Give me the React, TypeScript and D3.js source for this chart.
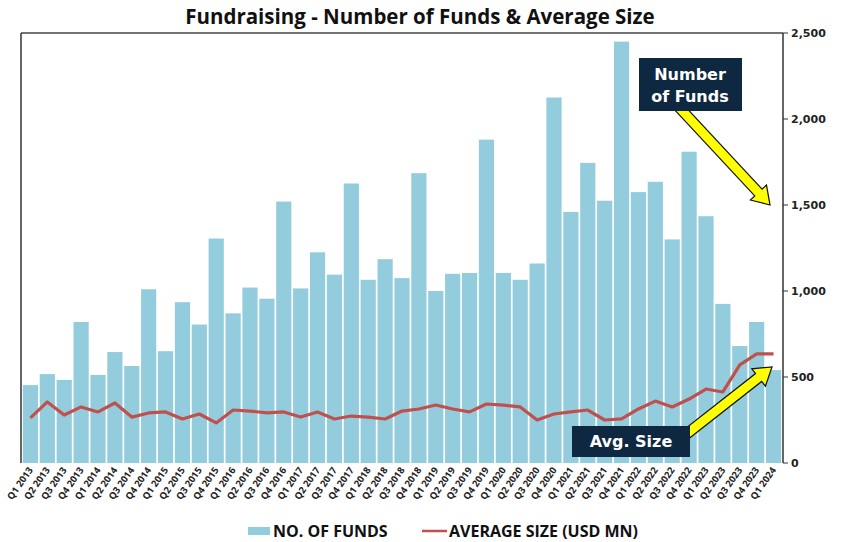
import React from 'react'
import * as d3 from 'd3'

const quarters = [
  'Q1 2013', 'Q2 2013', 'Q3 2013', 'Q4 2013',
  'Q1 2014', 'Q2 2014', 'Q3 2014', 'Q4 2014',
  'Q1 2015', 'Q2 2015', 'Q3 2015', 'Q4 2015',
  'Q1 2016', 'Q2 2016', 'Q3 2016', 'Q4 2016',
  'Q1 2017', 'Q2 2017', 'Q3 2017', 'Q4 2017',
  'Q1 2018', 'Q2 2018', 'Q3 2018', 'Q4 2018',
  'Q1 2019', 'Q2 2019', 'Q3 2019', 'Q4 2019',
  'Q1 2020', 'Q2 2020', 'Q3 2020', 'Q4 2020',
  'Q1 2021', 'Q2 2021', 'Q3 2021', 'Q4 2021',
  'Q1 2022', 'Q2 2022', 'Q3 2022', 'Q4 2022',
  'Q1 2023', 'Q2 2023', 'Q3 2023', 'Q4 2023',
  'Q1 2024',
]

const numberOfFunds = [
  453, 517, 483, 820,
  512, 645, 564, 1010,
  650, 935, 805, 1305,
  870, 1020, 955, 1520,
  1015, 1225, 1095, 1625,
  1065, 1185, 1075, 1685,
  1000, 1100, 1105, 1880,
  1105, 1065, 1160, 2125,
  1460, 1745, 1525, 2450,
  1575, 1635, 1300, 1810,
  1435, 925, 680, 820,
  540,
]

const averageSize = [
  262, 355, 279, 326,
  297, 349, 267, 291,
  297, 256, 285, 233,
  308, 302, 291, 297,
  267, 297, 256, 273,
  267, 256, 302, 314,
  337, 314, 297, 343,
  337, 326, 250, 285,
  297, 308, 250, 256,
  314, 360, 326, 372,
  430, 413, 570, 634,
  634,
]

const yTicks = [0, 500, 1000, 1500, 2000, 2500]

const left = 21
const right = 783
const top = 33
const bottom = 463

// block arrow polygon from (x1,y1) to tip (x2,y2)
const blockArrow = (x1: number, y1: number, x2: number, y2: number) => {
  const shaft = 5
  const head = 11
  const headLen = 17
  const dx = x2 - x1
  const dy = y2 - y1
  const len = Math.sqrt(dx * dx + dy * dy)
  const ux = dx / len
  const uy = dy / len
  const nx = -uy
  const ny = ux
  const bx = x2 - ux * headLen
  const by = y2 - uy * headLen
  const pts = [
    [x1 + nx * shaft, y1 + ny * shaft],
    [bx + nx * shaft, by + ny * shaft],
    [bx + nx * head, by + ny * head],
    [x2, y2],
    [bx - nx * head, by - ny * head],
    [bx - nx * shaft, by - ny * shaft],
    [x1 - nx * shaft, y1 - ny * shaft],
  ]
  return pts.map(p => p.join(',')).join(' ')
}

const App: React.FunctionComponent = () => {
  const x = d3
    .scaleBand<string>()
    .domain(quarters)
    .range([left + 1, right - 1])
    .paddingInner(0.1)
    .paddingOuter(0.05)

  const y = d3.scaleLinear().domain([0, 2500]).range([bottom, top])

  const line = d3
    .line<number>()
    .x((_, i) => (x(quarters[i]) as number) + x.bandwidth() / 2)
    .y(d => y(d))

  const labelFont = "'Open Sans', 'DejaVu Sans', sans-serif"
  const boxFont = "'DejaVu Sans', Verdana, sans-serif"

  return (
    <svg width={842} height={542} style={{ position: 'absolute', left: 0, top: 0 }}>
      <rect width={842} height={542} fill="#fff" />
      <text
        x={420}
        y={24}
        textAnchor="middle"
        fontFamily={labelFont}
        fontWeight={700}
        fontSize={20.5}
        fill="#111"
      >
        Fundraising - Number of Funds &amp; Average Size
      </text>

      {quarters.map((q, i) => (
        <rect
          key={q}
          x={x(q)}
          y={y(numberOfFunds[i])}
          width={x.bandwidth()}
          height={bottom - y(numberOfFunds[i])}
          fill="#93cddd"
        />
      ))}

      <path
        d={line(averageSize) || ''}
        fill="none"
        stroke="#c0504d"
        strokeWidth={3.2}
        strokeLinejoin="round"
      />

      {/* frame */}
      <line x1={left} x2={right} y1={top} y2={top} stroke="#444" strokeWidth={1.5} />
      <line x1={left} x2={left} y1={top} y2={bottom} stroke="#333" strokeWidth={1.5} />
      <line x1={right} x2={right} y1={top} y2={bottom} stroke="#333" strokeWidth={1.5} />

      {yTicks.map(t => (
        <g key={t} transform={`translate(${right},${y(t)})`}>
          <line x1={0} x2={5} stroke="#333" />
          <text
            x={8}
            dy="0.35em"
            fontFamily={boxFont}
            fontWeight={700}
            fontSize={11}
            fill="#222"
          >
            {d3.format(',')(t)}
          </text>
        </g>
      ))}

      {quarters.map(q => (
        <text
          key={q}
          transform={`translate(${(x(q) as number) + x.bandwidth() / 2 + 3},${bottom + 7}) rotate(-55)`}
          textAnchor="end"
          fontFamily={labelFont}
          fontWeight={700}
          fontSize={9.5}
          fill="#222"
        >
          {q}
        </text>
      ))}

      {/* annotations */}
      <polygon
        points={blockArrow(676, 104, 770, 205)}
        fill="#ffff00"
        stroke="#111"
        strokeWidth={1.2}
        strokeLinejoin="miter"
      />
      <rect x={639} y={58} width={103} height={53} fill="#0e2841" />
      <text
        x={690}
        y={80}
        textAnchor="middle"
        fontFamily={boxFont}
        fontWeight={700}
        fontSize={16}
        fill="#fff"
      >
        Number
      </text>
      <text
        x={690}
        y={102}
        textAnchor="middle"
        fontFamily={boxFont}
        fontWeight={700}
        fontSize={16}
        fill="#fff"
      >
        of Funds
      </text>

      <polygon
        points={blockArrow(684, 436, 772, 367)}
        fill="#ffff00"
        stroke="#111"
        strokeWidth={1.2}
      />
      <rect x={572} y={426} width={118} height={31} fill="#0e2841" />
      <text
        x={631}
        y={447}
        textAnchor="middle"
        fontFamily={boxFont}
        fontWeight={700}
        fontSize={16}
        fill="#fff"
      >
        Avg. Size
      </text>

      {/* legend */}
      <rect x={248} y={527} width={22} height={8} fill="#93cddd" />
      <text x={273} y={537} fontFamily={labelFont} fontWeight={700} fontSize={16} fill="#111">
        NO. OF FUNDS
      </text>
      <line x1={422} x2={447} y1={531} y2={531} stroke="#c0504d" strokeWidth={2.5} />
      <text x={449} y={537} fontFamily={labelFont} fontWeight={700} fontSize={16} fill="#111">
        AVERAGE SIZE (USD MN)
      </text>
    </svg>
  )
}

export default App
